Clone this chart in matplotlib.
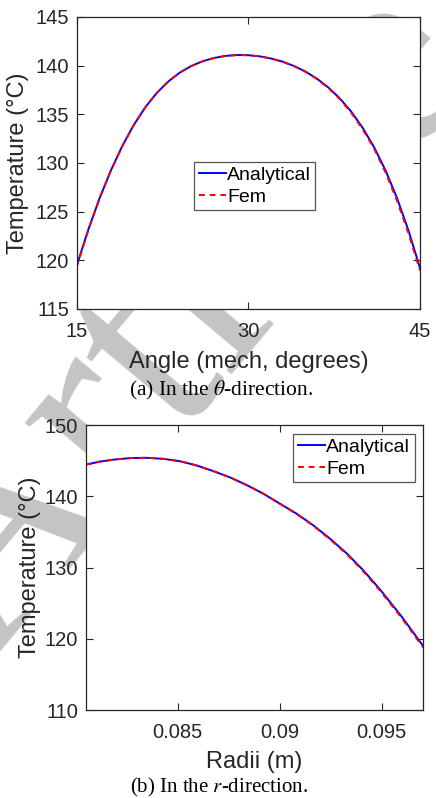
import matplotlib
matplotlib.use("Agg")
import matplotlib.pyplot as plt

plt.rcParams['font.family'] = ['Liberation Sans', 'DejaVu Sans']
plt.rcParams['mathtext.fontset'] = 'stix'

# (a) temperature along the angle
theta = [15, 16, 17, 18, 19, 20, 21, 22, 23, 24, 25, 26, 27, 28, 29, 30,
         31, 32, 33, 34, 35, 36, 37, 38, 39, 40, 41, 42, 43, 44, 45]
temp_theta_ana = [119.45, 123.11, 126.38, 129.27, 131.78, 133.93, 135.73, 137.20,
                  138.37, 139.28, 139.96, 140.45, 140.79, 141.00, 141.095, 141.075,
                  140.955, 140.73, 140.41, 139.96, 139.39, 138.66, 137.75, 136.63,
                  135.26, 133.60, 131.60, 129.21, 126.37, 123.04, 119.21]
temp_theta_fem = [119.30, 123.05, 126.35, 129.25, 131.77, 133.93, 135.73, 137.20,
                  138.37, 139.28, 139.96, 140.45, 140.79, 141.00, 141.095, 141.075,
                  140.955, 140.73, 140.40, 139.94, 139.36, 138.62, 137.70, 136.55,
                  135.15, 133.45, 131.45, 129.00, 126.10, 122.75, 118.95]

# (b) temperature along the radius
radii = [0.0805, 0.08119, 0.08187, 0.08269, 0.0835, 0.08432, 0.08513, 0.08595,
         0.08676, 0.08758, 0.0884, 0.0892, 0.0900, 0.09082, 0.09163, 0.09246,
         0.09329, 0.09411, 0.09492, 0.09598, 0.09704]
temp_r_ana = [144.45, 144.87, 145.15, 145.37, 145.40, 145.25, 144.91, 144.31,
              143.52, 142.64, 141.55, 140.37, 138.99, 137.58, 135.97, 134.08,
              131.99, 129.59, 126.94, 123.14, 118.99]
temp_r_fem = [144.45, 144.87, 145.15, 145.37, 145.40, 145.25, 144.91, 144.31,
              143.52, 142.64, 141.55, 140.36, 138.97, 137.54, 135.91, 133.98,
              131.88, 129.45, 126.78, 122.95, 118.80]

fig = plt.figure(figsize=(4.36, 7.98), dpi=100)

# watermark, behind the axes
fig.text(-10 / 436, 1 - 660 / 798, "Article", rotation=50, rotation_mode='anchor',
         fontsize=200, color='#c4c4c4', family='Liberation Serif',
         ha='left', va='baseline', zorder=-1)

ax1 = fig.add_axes([0.1759, 0.6128, 0.7874, 0.3659])
ax2 = fig.add_axes([0.1972, 0.1099, 0.7736, 0.3575])

for ax in (ax1, ax2):
    ax.tick_params(direction='in', top=True, right=True, length=5, width=0.8,
                   labelsize=14.5, colors='#262626')
    ax.tick_params(axis='x', pad=9.5)
    ax.tick_params(axis='y', pad=5.5)
    for s in ax.spines.values():
        s.set_linewidth(0.9)
        s.set_color('#262626')

ax1.plot(theta, temp_theta_ana, color='blue', lw=1.4, label='Analytical')
ax1.plot(theta, temp_theta_fem, color='red', lw=1.4, ls=(0, (3, 2.5)), label='Fem')
ax1.set_xlim(15, 45)
ax1.set_ylim(115, 145)
ax1.set_xticks([15, 30, 45])
ax1.set_yticks([115, 120, 125, 130, 135, 140, 145])
ax1.set_xlabel("Angle (mech, degrees)", fontsize=17, color='#262626')
ax1.set_ylabel("Temperature (°C)", fontsize=17, color='#262626')
ax1.xaxis.set_label_coords(0.5, -0.145)
ax1.yaxis.set_label_coords(-0.139, 0.5)
leg1 = ax1.legend(loc='center', bbox_to_anchor=(0.519, 0.421), fontsize=14,
                  handlelength=1.4, handletextpad=0.08, labelspacing=0.25,
                  borderpad=0.22, fancybox=False, framealpha=1)
leg1.get_frame().set_edgecolor('#555555')
leg1.get_frame().set_linewidth(0.9)

ax2.plot(radii, temp_r_ana, color='blue', lw=1.4, label='Analytical')
ax2.plot(radii, temp_r_fem, color='red', lw=1.4, ls=(0, (3, 2.5)), label='Fem')
ax2.set_xlim(0.0805, 0.09704)
ax2.set_ylim(110, 150)
ax2.set_xticks([0.085, 0.09, 0.095])
ax2.set_xticklabels(['0.085', '0.09', '0.095'])
ax2.set_yticks([110, 120, 130, 140, 150])
ax2.set_xlabel("Radii (m)", fontsize=17, color='#262626')
ax2.set_ylabel("Temperature (°C)", fontsize=17, color='#262626')
ax2.xaxis.set_label_coords(0.5, -0.141)
ax2.yaxis.set_label_coords(-0.133, 0.5)
leg2 = ax2.legend(loc='upper right', fontsize=14, borderaxespad=0.45,
                  handlelength=1.4, handletextpad=0.08, labelspacing=0.25,
                  borderpad=0.22, fancybox=False, framealpha=1)
leg2.get_frame().set_edgecolor('#555555')
leg2.get_frame().set_linewidth(0.9)

fig.text(0.507, 1 - 395 / 798, r"(a) In the $\theta$-direction.", fontsize=15.5,
         family='Liberation Serif', ha='center', va='baseline')
fig.text(0.503, 1 - 792.5 / 798, r"(b) In the $r$-direction.", fontsize=15,
         family='Liberation Serif', ha='center', va='baseline')

fig.savefig("out.png", dpi=100)
